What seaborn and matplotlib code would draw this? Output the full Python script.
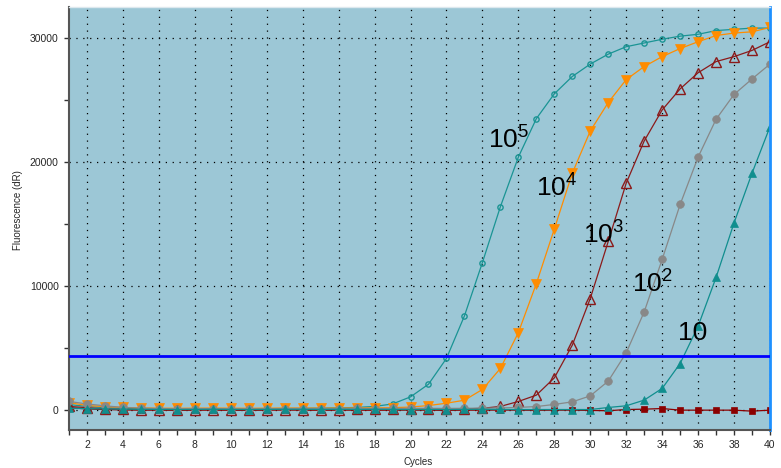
import numpy as np
import pandas as pd
import matplotlib
matplotlib.use("Agg")
import matplotlib.pyplot as plt
import seaborn as sns

# Data (cycles 1..40)
cycles = list(range(1, 41))

dil_1e5 = [450, 300, 200, 150, 120, 100, 90, 90, 100, 100,
           110, 120, 130, 140, 160, 180, 220, 300, 500, 1070,
           2090, 4170, 7600, 11900, 16400, 20400, 23500, 25500, 26900, 27900,
           28700, 29300, 29600, 29900, 30150, 30300, 30600, 30700, 30800, 30800]
dil_1e4 = [600, 380, 280, 220, 180, 160, 150, 160, 170, 160,
           150, 160, 170, 170, 160, 170, 180, 180, 200, 250,
           370, 560, 800, 1670, 3360, 6250, 10200, 14600, 19100, 22500,
           24800, 26650, 27700, 28500, 29150, 29700, 30200, 30400, 30500, 30850]
dil_1e3 = [300, 200, 100, 60, 50, 40, 30, 40, 50, 40,
           30, 40, 50, 50, 40, 50, 60, 60, 70, 60,
           70, 80, 100, 150, 300, 700, 1210, 2600, 5240, 9000,
           13600, 18300, 21700, 24200, 25900, 27200, 28100, 28500, 29000, 29700]
dil_1e2 = [700, 500, 350, 220, 160, 130, 110, 120, 120, 110,
           100, 110, 120, 130, 120, 130, 140, 130, 140, 150,
           150, 140, 150, 160, 180, 220, 290, 460, 670, 1150,
           2340, 4620, 7920, 12150, 16580, 20400, 23450, 25450, 26700, 27900]
dil_1e1 = [150, 120, 100, 80, 70, 60, 50, 60, 70, 60,
           50, 60, 70, 70, 60, 70, 60, 70, 60, 50,
           60, 50, 60, 70, 60, 50, 50, 50, 50, 50,
           215, 350, 810, 1750, 3760, 6770, 10700, 15100, 19100, 22850]
ntc = [200, 100, 50, 20, 0, 0, -20, 0, 0, -10,
       -20, 0, 10, 0, -10, 0, 0, -10, 0, 0,
       0, -20, 0, 0, 10, 0, -10, 0, 0, -20,
       -50, 50, 80, 130, 0, 0, 0, 0, -80, 0]

threshold = 4350

labels = ["$\\mathregular{10^5}$", "$\\mathregular{10^4}$", "$\\mathregular{10^3}$",
          "$\\mathregular{10^2}$", "10"]
label_x = [24.3, 27.0, 29.6, 32.3, 34.9]
label_y = [21100, 17250, 13460, 9510, 5640]

sns.set_style("ticks")
plt.rcParams["font.family"] = ["Liberation Sans", "DejaVu Sans"]

fig = plt.figure(figsize=(7.81, 4.68), dpi=100)
ax = fig.add_axes([69 / 781, 38 / 468, 701 / 781, 423 / 468])
ax.set_facecolor("#9cc7d6")

# series styles: (values, color, marker, size, filled)
series = [
    (ntc, "#8b0000", "s", 5, True),
    (dil_1e5, "#1a9494", "o", 3.8, False),
    (dil_1e4, "#ff8c00", "v", 7, True),
    (dil_1e3, "#8b1a1a", "^", 7.5, False),
    (dil_1e2, "#888888", "o", 5.5, True),
    (dil_1e1, "#108e8e", "^", 5.5, True),
]
for vals, col, mk, ms, filled in series:
    df = pd.DataFrame({"Cycles": cycles, "dR": vals})
    sns.lineplot(data=df, x="Cycles", y="dR", ax=ax, color=col, linewidth=0.9,
                 marker=mk, markersize=ms,
                 markerfacecolor=col if filled else "none",
                 markeredgecolor=col, markeredgewidth=1.0 if not filled else 0.5)

ax.axhline(threshold, color="#0000ff", linewidth=2, zorder=5)

for txt, tx, ty in zip(labels, label_x, label_y):
    ax.text(tx, ty, txt, fontsize=19, ha="left", va="baseline", color="black", zorder=6)

ax.set_xlim(1, 40)
ax.set_ylim(-1600, 32500)
ax.set_xticks(range(2, 41, 2))
ax.set_xticks(range(1, 41), minor=True)
ax.set_yticks([0, 10000, 20000, 30000])
ax.set_yticks(range(0, 32001, 5000), minor=True)
ax.tick_params(axis="both", which="both", direction="out", length=3.5, width=1,
               color="#333333", labelsize=7.5, pad=4)
ax.grid(True, which="major", color="black", linestyle=(0, (1, 4.5)), linewidth=0.9)

ax.set_xlabel("")
ax.set_ylabel("")
fig.text(418 / 781, 1 - 462 / 468, "Cycles", fontsize=7, ha="center", va="center")
fig.text(18 / 781, 1 - 210 / 468, "Fluorescence (dR)", fontsize=7, rotation=90,
         ha="center", va="center")

for side in ["left", "bottom"]:
    ax.spines[side].set_color("#555555")
    ax.spines[side].set_linewidth(1.5)
ax.spines["right"].set_visible(True)
ax.spines["right"].set_color("#1e90ff")
ax.spines["right"].set_linewidth(2)
ax.spines["top"].set_visible(True)
ax.spines["top"].set_color("#dde8ee")
ax.spines["top"].set_linewidth(1)

fig.savefig("out.png", dpi=100)
